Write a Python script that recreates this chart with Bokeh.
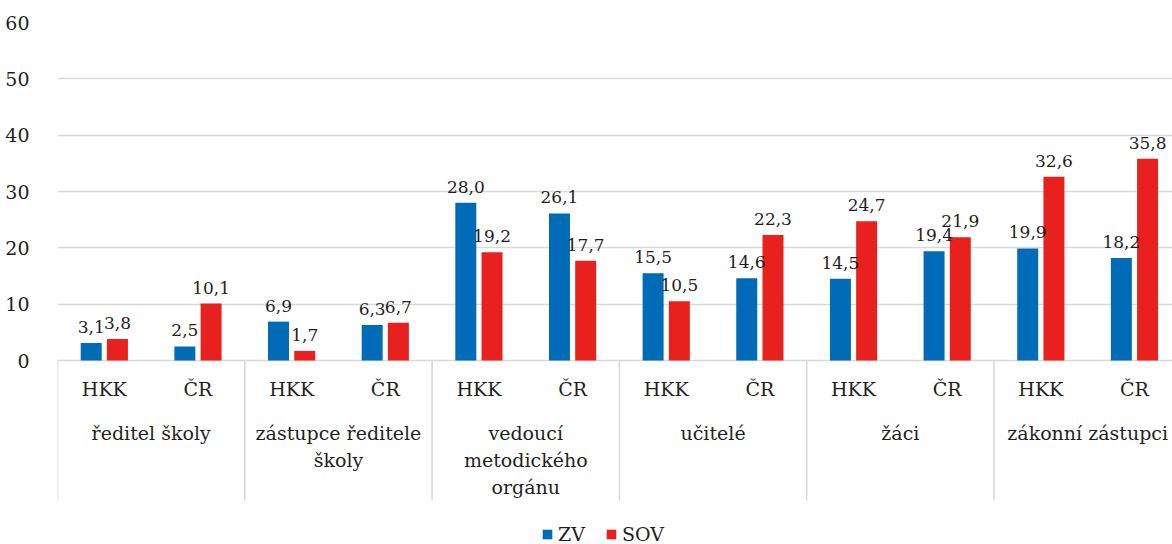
from bokeh.plotting import figure
from bokeh.models import Range1d, FixedTicker, ColumnDataSource, Legend, LegendItem
from bokeh.embed import file_html
from bokeh.resources import INLINE

# ---- data ----
groups = ["ředitel školy", "zástupce ředitele\nškoly", "vedoucí\nmetodického\norgánu",
          "učitelé", "žáci", "zákonní zástupci"]
subgroups = ["HKK", "ČR"]
zv = [3.1, 2.5, 6.9, 6.3, 28.0, 26.1, 15.5, 14.6, 14.5, 19.4, 19.9, 18.2]
sov = [3.8, 10.1, 1.7, 6.7, 19.2, 17.7, 10.5, 22.3, 24.7, 21.9, 32.6, 35.8]
series_names = ["ZV", "SOV"]
y_ticks = [0, 10, 20, 30, 40, 50, 60]

# ---- styling / layout ----
FONT = "DejaVu Serif"
FS = "19px"
FS_VAL = "17px"
TXT = "#1f1f1f"
GRID = "#d9d9d9"
BLUE = "#006bb6"
RED = "#e8201e"

W, H = 1172, 544
left, top = 57, 22
zero_px = 360            # figure-pixel row of value 0
slot_px = 93.65          # width of one subcategory slot
frame_w = W - left
frame_h = H - top
px_per_unit = (zero_px - top) / 60.0
y_start = -(H - zero_px) / px_per_unit
x_end = frame_w / slot_px
sep_len = 140 / px_per_unit

p = figure(width=W, height=H, output_backend="svg", toolbar_location=None,
           x_range=Range1d(0, x_end), y_range=Range1d(y_start, 60),
           x_axis_location=None, min_border_left=left, min_border_top=top,
           min_border_right=0, min_border_bottom=0)
p.outline_line_color = None
p.background_fill_color = "white"
p.xgrid.visible = False

yax = p.yaxis[0]
yax.ticker = FixedTicker(ticks=y_ticks)
yax.axis_line_color = None
yax.major_tick_line_color = None
yax.minor_tick_line_color = None
yax.major_label_standoff = 22
yax.major_label_text_font = FONT
yax.major_label_text_font_size = FS
yax.major_label_text_color = TXT
p.ygrid.ticker = FixedTicker(ticks=y_ticks)
p.ygrid.grid_line_color = GRID
p.ygrid.grid_line_width = 1.6

n = len(zv)
centers = [i + 0.5 for i in range(n)]
off = 0.14
bw = 0.224
src = ColumnDataSource(dict(
    xz=[c - off for c in centers], xs=[c + off for c in centers],
    zv=zv, sov=sov,
    lz=[f"{v:.1f}".replace(".", ",") for v in zv],
    ls=[f"{v:.1f}".replace(".", ",") for v in sov],
))
r1 = p.vbar(x="xz", top="zv", bottom=0, width=bw, source=src,
            fill_color=BLUE, line_color=None)
r2 = p.vbar(x="xs", top="sov", bottom=0, width=bw, source=src,
            fill_color=RED, line_color=None)

for xcol, ycol, lcol in (("xz", "zv", "lz"), ("xs", "sov", "ls")):
    p.text(x=xcol, y=ycol, text=lcol, source=src, text_align="center",
           text_baseline="alphabetic", y_offset=-16, text_font={"value": FONT},
           text_font_size=FS_VAL, text_color=TXT)

# category axis: separators
ng = len(groups)
ns = len(subgroups)
bounds = [g * ns for g in range(ng + 1)]
p.segment(x0=bounds, x1=bounds, y0=[0] * len(bounds), y1=[-sep_len] * len(bounds),
          line_color=GRID, line_width=1.6)

# subcategory labels
sub_src = ColumnDataSource(dict(x=centers, t=[subgroups[i % ns] for i in range(n)],
                                y=[0] * n))
p.text(x="x", y="y", text="t", source=sub_src, y_offset=28, text_align="center",
       text_baseline="middle", text_font={"value": FONT}, text_font_size=FS,
       text_color=TXT)

# group labels (multi-line)
gx, gy, gt, go = [], [], [], []
for g, name in enumerate(groups):
    for k, line in enumerate(name.split("\n")):
        gx.append(g * ns + ns / 2)
        gy.append(0)
        gt.append(line)
        go.append(72 + 27 * k)
grp_src = ColumnDataSource(dict(x=gx, y=gy, t=gt, o=go))
p.text(x="x", y="y", text="t", y_offset="o", source=grp_src, text_align="center",
       text_baseline="middle", text_font={"value": FONT}, text_font_size=FS,
       text_color=TXT)

legend = Legend(items=[LegendItem(label=series_names[0], renderers=[r1]),
                       LegendItem(label=series_names[1], renderers=[r2])],
                orientation="horizontal", location=(484, -1),
                glyph_width=12, glyph_height=12, label_standoff=5, spacing=20,
                padding=0, margin=0, border_line_color=None,
                background_fill_alpha=0, label_text_font=FONT,
                label_text_font_size=FS, label_text_color=TXT, label_height=12)
p.add_layout(legend, "center")

open("out.html", "w").write(file_html(p, INLINE))
